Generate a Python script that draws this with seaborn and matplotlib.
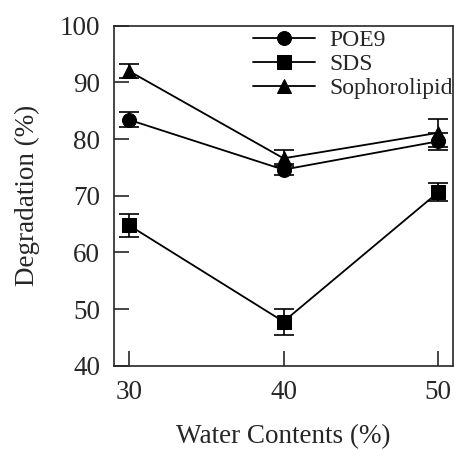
import pandas as pd
import seaborn as sns
import matplotlib.pyplot as plt

# Werte
water = [30, 40, 50]
poe9 = [83.4, 74.6, 79.6]
poe9_err = [1.3, 1.0, 1.5]
sds = [64.8, 47.8, 70.6]
sds_err = [2.0, 2.3, 1.6]
sopho = [92.0, 76.6, 81.1]
sopho_err = [1.2, 1.4, 2.5]

series = ['POE9', 'SDS', 'Sophorolipid']
markers = {'POE9': 'o', 'SDS': 's', 'Sophorolipid': '^'}

df = pd.DataFrame({
    'water': water * 3,
    'deg': poe9 + sds + sopho,
    'err': poe9_err + sds_err + sopho_err,
    'surfactant': [s for s in series for _ in water],
})

sns.set_style('ticks')
plt.rcParams['font.family'] = ['Liberation Serif', 'DejaVu Serif']

fig = plt.figure(figsize=(4.54, 4.5), dpi=100)
ax = fig.add_axes([0.251, 0.187, 0.747, 0.756])

# Fehlerbalken zuerst
for s in series:
    d = df[df['surfactant'] == s]
    ax.errorbar(d['water'], d['deg'], yerr=d['err'], fmt='none',
                ecolor='black', elinewidth=1.2, capsize=7.5, capthick=1.2)

sns.lineplot(data=df, x='water', y='deg', hue='surfactant', style='surfactant',
             markers=markers, dashes=False, palette=['black'] * 3,
             markersize=10, linewidth=1.3, markeredgecolor='black', ax=ax)

ax.set_xlim(29.03, 50.97)
ax.set_ylim(40, 100)
ax.set_xticks([30, 40, 50])
ax.set_yticks([40, 50, 60, 70, 80, 90, 100])
ax.tick_params(direction='in', length=11, width=1.2, labelsize=19.5, pad=10)
ax.set_xlabel('Water Contents (%)', fontsize=19.5, labelpad=14)
ax.set_ylabel('Degradation (%)', fontsize=19.5, labelpad=14)
for sp in ax.spines.values():
    sp.set_linewidth(1.2)
    sp.set_visible(True)

leg = ax.legend(frameon=False, fontsize=17, loc='upper right',
                bbox_to_anchor=(1.04, 1.03), handlelength=2.6,
                handletextpad=0.6, labelspacing=0.1, borderaxespad=0.2)

fig.savefig('out.png', dpi=100)
